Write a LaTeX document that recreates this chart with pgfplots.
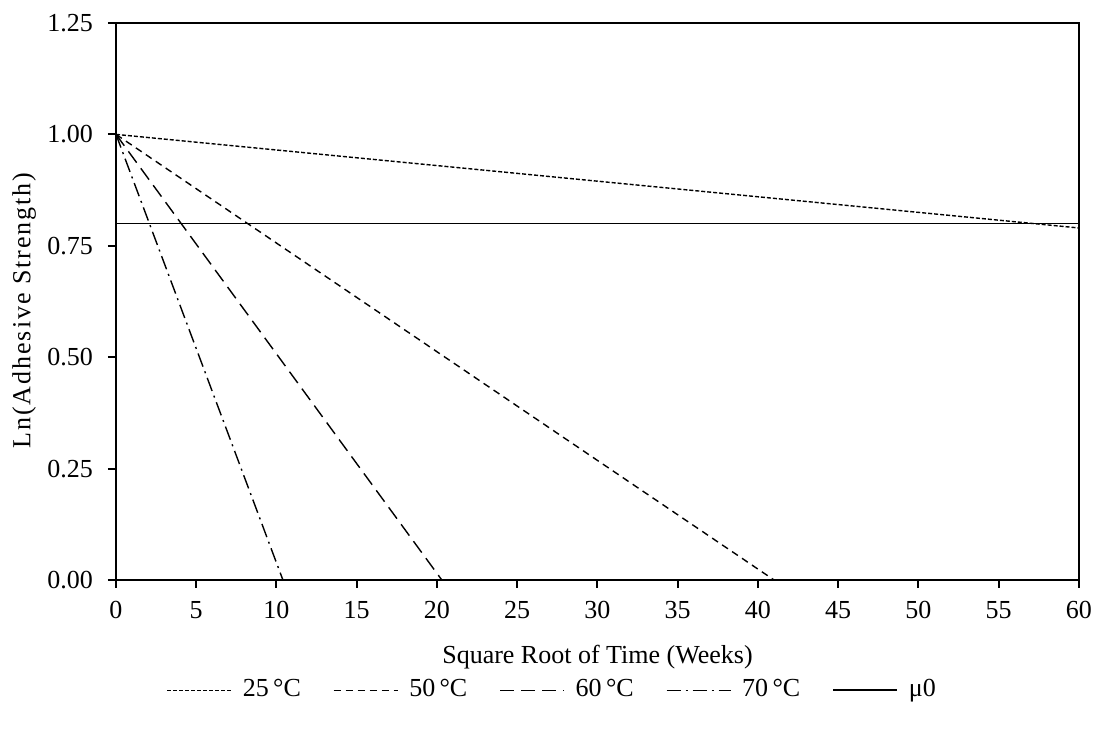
\documentclass[border=0pt]{standalone}
\usepackage{fontspec}
\setmainfont{Liberation Serif}
\usepackage{pgfplots}
\pgfplotsset{compat=1.18}

\begin{document}
\fontsize{13pt}{15pt}\selectfont
\begin{tikzpicture}
\path[use as bounding box] (-58pt,-79pt) rectangle (491.5pt,290pt);
\begin{axis}[
    at={(0pt,0pt)}, anchor=south west,
    scale only axis,
    width=481.5pt, height=278.5pt,
    xmin=0, xmax=60,
    ymin=0, ymax=1.25,
    xtick={0,5,...,60},
    ytick={0,0.25,0.5,0.75,1,1.25},
    yticklabel style={/pgf/number format/fixed, /pgf/number format/fixed zerofill,
        /pgf/number format/precision=2, xshift=-3pt},
    /pgf/number format/assume math mode=true,
    tick label style={font=\fontsize{13pt}{15pt}\selectfont},
    xticklabel style={yshift=-2pt},
    tick align=outside,
    tick pos=left,
    major tick length=4pt,
    axis line style={line width=1pt},
    tick style={line width=1pt, black},
    label style={font=\fontsize{13pt}{15pt}\selectfont},
    xlabel={Square Root of Time (Weeks)},
    ylabel={\addfontfeature{LetterSpace=7.5}Ln(Adhesive Strength)},
    xlabel style={at={(axis description cs:0.5,0)}, anchor=north, yshift=-28pt},
    ylabel style={at={(axis description cs:0,0.5)}, anchor=south, yshift=35.5pt, xshift=-4.5pt},
    legend style={draw=none, at={(axis description cs:0,-0.198)}, anchor=west,
        xshift=25pt, inner sep=0pt,
        legend columns=-1, font=\fontsize{13pt}{15pt}\selectfont,
        /tikz/every odd column/.append style={column sep=3.5pt},
        /tikz/every even column/.append style={column sep=14pt}},
    legend image code/.code={\draw[#1] (0pt,0pt) -- (32pt,0pt);},
]
\addplot[black, line width=0.7pt, dash pattern=on 2pt off 1pt] coordinates {(0,1.0) (60,0.79)};
\addlegendentry{25\,°C}
\addplot[black, line width=0.7pt, dash pattern=on 3.5pt off 2.5pt] coordinates {(0,1.0) (41,0)};
\addlegendentry{50\,°C}
\addplot[black, line width=0.7pt, dash pattern=on 7pt off 3.5pt] coordinates {(0,1.0) (20.3,0)};
\addlegendentry{60\,°C}
\addplot[black, line width=0.7pt, dash pattern=on 7pt off 2.5pt on 1pt off 2.5pt] coordinates {(0,1.0) (10.4,0)};
\addlegendentry{70\,°C}
\addplot[black, line width=0.8pt] coordinates {(0,0.80) (60,0.80)};
\addlegendentry{μ0}
\end{axis}
\end{tikzpicture}
\end{document}
